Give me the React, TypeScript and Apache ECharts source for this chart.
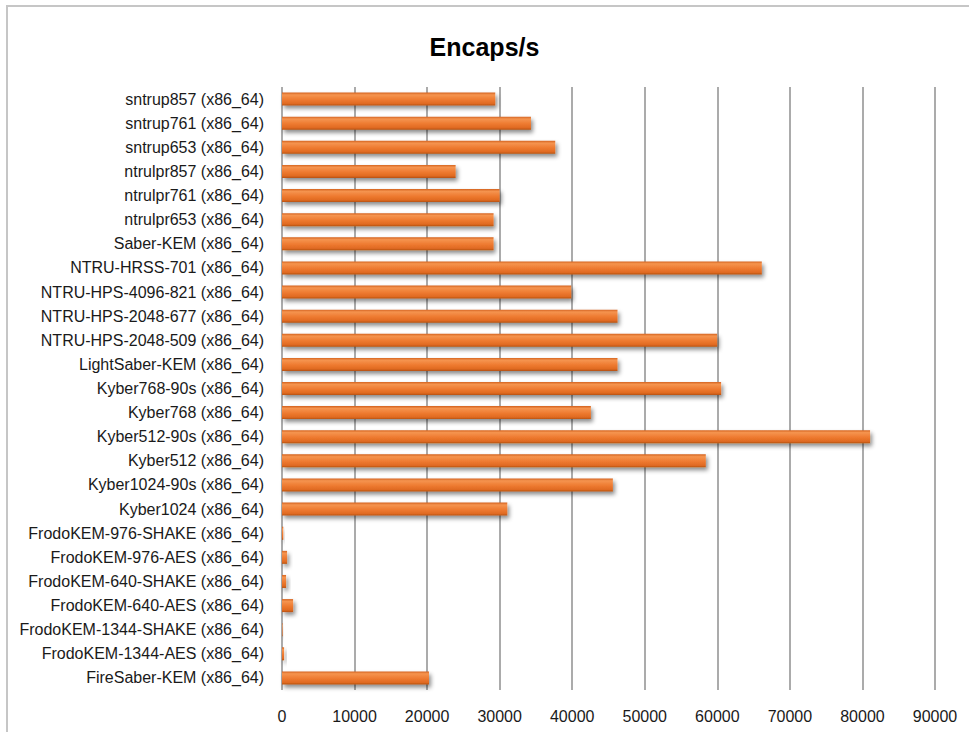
import React, { useEffect, useRef } from "react";
import * as echarts from "echarts";

const categories = [
  "FireSaber-KEM (x86_64)",
  "FrodoKEM-1344-AES (x86_64)",
  "FrodoKEM-1344-SHAKE (x86_64)",
  "FrodoKEM-640-AES (x86_64)",
  "FrodoKEM-640-SHAKE (x86_64)",
  "FrodoKEM-976-AES (x86_64)",
  "FrodoKEM-976-SHAKE (x86_64)",
  "Kyber1024 (x86_64)",
  "Kyber1024-90s (x86_64)",
  "Kyber512 (x86_64)",
  "Kyber512-90s (x86_64)",
  "Kyber768 (x86_64)",
  "Kyber768-90s (x86_64)",
  "LightSaber-KEM (x86_64)",
  "NTRU-HPS-2048-509 (x86_64)",
  "NTRU-HPS-2048-677 (x86_64)",
  "NTRU-HPS-4096-821 (x86_64)",
  "NTRU-HRSS-701 (x86_64)",
  "Saber-KEM (x86_64)",
  "ntrulpr653 (x86_64)",
  "ntrulpr761 (x86_64)",
  "ntrulpr857 (x86_64)",
  "sntrup653 (x86_64)",
  "sntrup761 (x86_64)",
  "sntrup857 (x86_64)",
];

const encapsPerSecond = [
  20260, 290, 80, 1530, 560, 700, 180, 31050, 45600, 58410, 81050, 42570,
  60520, 46240, 59970, 46240, 39860, 66130, 29160, 29160, 29990, 23930, 37660,
  34310, 29390,
];

const axisMin = 0;
const axisMax = 90000;
const axisInterval = 10000;
const chartTitle = "Encaps/s";

export default function App() {
  const ref = useRef<HTMLDivElement>(null);

  useEffect(() => {
    if (!ref.current) return;
    const chart = echarts.init(ref.current, null, { renderer: "svg" });
    const barGradient = new echarts.graphic.LinearGradient(0, 0, 0, 1, [
      { offset: 0, color: "#D4631F" },
      { offset: 0.18, color: "#F5944F" },
      { offset: 0.55, color: "#EE7A30" },
      { offset: 0.85, color: "#E06A22" },
      { offset: 1, color: "#B6520F" },
    ]);
    chart.setOption({
      animation: false,
      backgroundColor: "#ffffff",
      title: {
        text: chartTitle,
        left: "center",
        top: 29,
        textStyle: {
          fontFamily: "Liberation Sans",
          fontSize: 25,
          fontWeight: "bold",
          color: "#000000",
        },
      },
      graphic: [
        {
          type: "rect",
          shape: { x: 7, y: 6, width: 1000, height: 800 },
          style: { fill: "none", stroke: "#c6c6c6", lineWidth: 2 },
          silent: true,
        },
      ],
      grid: {
        left: 282,
        right: 34,
        top: 87,
        bottom: 42,
        containLabel: false,
      },
      xAxis: {
        type: "value",
        min: axisMin,
        max: axisMax,
        interval: axisInterval,
        axisLine: { show: false },
        axisTick: { show: false },
        splitLine: { show: true, lineStyle: { color: "#ababab", width: 2 } },
        axisLabel: {
          margin: 18,
          fontFamily: "Liberation Sans",
          fontSize: 16,
          color: "#1a1a1a",
          formatter: (v: number) => String(v),
        },
      },
      yAxis: {
        type: "category",
        data: categories,
        axisLine: { show: false },
        axisTick: { show: false },
        axisLabel: {
          margin: 18,
          fontFamily: "Liberation Sans",
          fontSize: 16,
          color: "#1a1a1a",
        },
      },
      series: [
        {
          type: "bar",
          data: encapsPerSecond,
          barWidth: 13,
          itemStyle: {
            color: barGradient,
            shadowColor: "rgba(0,0,0,0.45)",
            shadowBlur: 4,
            shadowOffsetX: 2,
            shadowOffsetY: 3,
          },
        },
      ],
    });
    return () => chart.dispose();
  }, []);

  return (
    <div
      ref={ref}
      style={{ position: "fixed", left: 0, top: 0, width: 969, height: 732 }}
    />
  );
}
